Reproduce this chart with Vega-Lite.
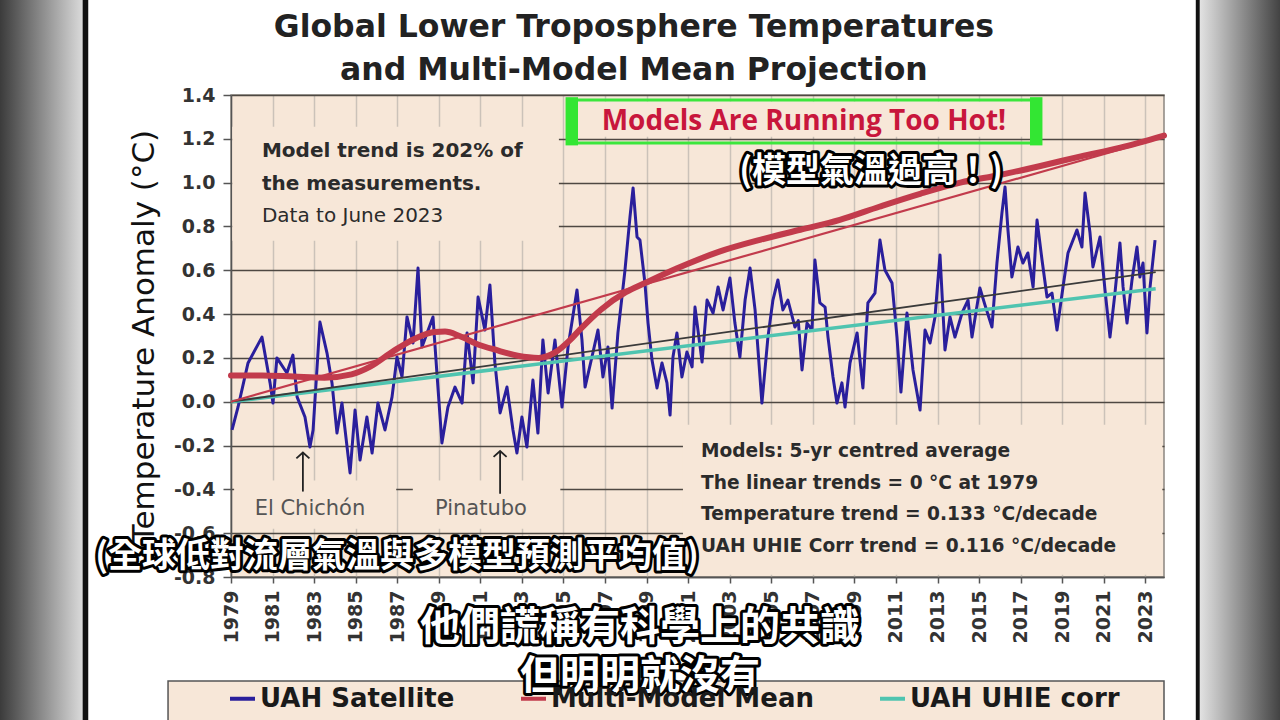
{
  "$schema": "https://vega.github.io/schema/vega-lite/v6.json",
  "width": 933,
  "height": 482,
  "autosize": {"type": "none"},
  "padding": {"left": 231, "top": 95, "right": 116, "bottom": 143},
  "background": "#ffffff",
  "config": {
    "view": {"fill": "#f7e7d8", "stroke": "#8c8680", "strokeWidth": 1.5},
    "axis": {"labelFont": "DejaVu Sans", "labelFontWeight": "bold", "labelColor": "#333333", "domainColor": "#555555", "tickColor": "#555555", "domainWidth": 1.5, "tickWidth": 1.5}
  },
  "datasets": {
    "uah": [
      {"t":1979.05,"v":-0.129},{"t":1979.34,"v":-0.024},{"t":1979.82,"v":0.177},{"t":1980.49,"v":0.295},{"t":1980.88,"v":0.086},{"t":1981.02,"v":-0.006},{"t":1981.21,"v":0.2},{"t":1981.69,"v":0.131},{"t":1981.98,"v":0.213},{"t":1982.18,"v":0.022},{"t":1982.56,"v":-0.07},{"t":1982.8,"v":-0.207},{"t":1982.95,"v":-0.129},{"t":1983.28,"v":0.364},{"t":1983.62,"v":0.222},{"t":1983.86,"v":0.086},{"t":1984.1,"v":-0.143},{"t":1984.34,"v":-0.006},{"t":1984.73,"v":-0.325},{"t":1984.97,"v":-0.038},{"t":1985.21,"v":-0.266},{"t":1985.54,"v":-0.07},{"t":1985.79,"v":-0.234},{"t":1986.07,"v":-0.006},{"t":1986.41,"v":-0.129},{"t":1986.75,"v":0.022},{"t":1986.99,"v":0.204},{"t":1987.23,"v":0.113},{"t":1987.47,"v":0.387},{"t":1987.76,"v":0.268},{"t":1988.0,"v":0.61},{"t":1988.19,"v":0.25},{"t":1988.72,"v":0.387},{"t":1988.91,"v":0.131},{"t":1989.15,"v":-0.188},{"t":1989.44,"v":-0.024},{"t":1989.78,"v":0.067},{"t":1990.12,"v":-0.006},{"t":1990.36,"v":0.314},{"t":1990.65,"v":0.086},{"t":1990.89,"v":0.478},{"t":1991.22,"v":0.327},{"t":1991.46,"v":0.533},{"t":1991.7,"v":0.177},{"t":1991.95,"v":-0.051},{"t":1992.28,"v":0.067},{"t":1992.57,"v":-0.129},{"t":1992.76,"v":-0.234},{"t":1993.0,"v":-0.07},{"t":1993.24,"v":-0.207},{"t":1993.53,"v":0.099},{"t":1993.77,"v":-0.143},{"t":1994.01,"v":0.282},{"t":1994.26,"v":0.04},{"t":1994.59,"v":0.282},{"t":1994.93,"v":-0.024},{"t":1995.22,"v":0.25},{"t":1995.65,"v":0.51},{"t":1995.89,"v":0.282},{"t":1996.04,"v":0.067},{"t":1996.37,"v":0.204},{"t":1996.66,"v":0.327},{"t":1996.9,"v":0.113},{"t":1997.14,"v":0.25},{"t":1997.34,"v":-0.029},{"t":1997.62,"v":0.314},{"t":1997.96,"v":0.601},{"t":1998.2,"v":0.843},{"t":1998.35,"v":0.976},{"t":1998.54,"v":0.752},{"t":1998.68,"v":0.738},{"t":1998.92,"v":0.542},{"t":1999.07,"v":0.359},{"t":1999.26,"v":0.191},{"t":1999.5,"v":0.063},{"t":1999.74,"v":0.177},{"t":1999.98,"v":0.086},{"t":2000.13,"v":-0.061},{"t":2000.27,"v":0.204},{"t":2000.46,"v":0.314},{"t":2000.7,"v":0.113},{"t":2000.94,"v":0.227},{"t":2001.19,"v":0.159},{"t":2001.33,"v":0.432},{"t":2001.67,"v":0.181},{"t":2001.91,"v":0.464},{"t":2002.2,"v":0.405},{"t":2002.44,"v":0.524},{"t":2002.68,"v":0.419},{"t":2003.01,"v":0.565},{"t":2003.25,"v":0.359},{"t":2003.49,"v":0.204},{"t":2003.74,"v":0.464},{"t":2003.98,"v":0.61},{"t":2004.22,"v":0.419},{"t":2004.55,"v":-0.006},{"t":2004.84,"v":0.295},{"t":2005.08,"v":0.464},{"t":2005.32,"v":0.556},{"t":2005.56,"v":0.419},{"t":2005.8,"v":0.464},{"t":2006.14,"v":0.341},{"t":2006.3,"v":0.37},{"t":2006.48,"v":0.145},{"t":2006.72,"v":0.359},{"t":2006.96,"v":0.327},{"t":2007.1,"v":0.647},{"t":2007.34,"v":0.451},{"t":2007.59,"v":0.432},{"t":2007.73,"v":0.295},{"t":2007.97,"v":0.113},{"t":2008.16,"v":-0.006},{"t":2008.4,"v":0.086},{"t":2008.55,"v":-0.024},{"t":2008.79,"v":0.177},{"t":2009.13,"v":0.314},{"t":2009.41,"v":0.063},{"t":2009.65,"v":0.451},{"t":2009.99,"v":0.496},{"t":2010.23,"v":0.738},{"t":2010.47,"v":0.601},{"t":2010.81,"v":0.542},{"t":2011.05,"v":0.295},{"t":2011.24,"v":0.044},{"t":2011.53,"v":0.405},{"t":2011.82,"v":0.145},{"t":2012.16,"v":-0.038},{"t":2012.4,"v":0.327},{"t":2012.64,"v":0.268},{"t":2012.88,"v":0.387},{"t":2013.12,"v":0.67},{"t":2013.36,"v":0.236},{"t":2013.6,"v":0.387},{"t":2013.84,"v":0.295},{"t":2014.18,"v":0.405},{"t":2014.47,"v":0.464},{"t":2014.66,"v":0.295},{"t":2015.04,"v":0.519},{"t":2015.29,"v":0.44},{"t":2015.62,"v":0.341},{"t":2015.86,"v":0.633},{"t":2016.1,"v":0.861},{"t":2016.25,"v":0.98},{"t":2016.39,"v":0.784},{"t":2016.58,"v":0.569},{"t":2016.87,"v":0.706},{"t":2017.11,"v":0.633},{"t":2017.35,"v":0.679},{"t":2017.6,"v":0.524},{"t":2017.79,"v":0.829},{"t":2018.03,"v":0.647},{"t":2018.27,"v":0.478},{"t":2018.51,"v":0.496},{"t":2018.75,"v":0.327},{"t":2019.04,"v":0.524},{"t":2019.28,"v":0.679},{"t":2019.71,"v":0.784},{"t":2019.95,"v":0.706},{"t":2020.1,"v":0.953},{"t":2020.34,"v":0.77},{"t":2020.48,"v":0.615},{"t":2020.82,"v":0.752},{"t":2021.06,"v":0.51},{"t":2021.3,"v":0.295},{"t":2021.54,"v":0.496},{"t":2021.78,"v":0.725},{"t":2021.93,"v":0.524},{"t":2022.12,"v":0.359},{"t":2022.36,"v":0.556},{"t":2022.6,"v":0.706},{"t":2022.74,"v":0.569},{"t":2022.89,"v":0.633},{"t":2023.08,"v":0.314},{"t":2023.23,"v":0.524},{"t":2023.47,"v":0.738}
    ],
    "model": [
      {"t":1979.0,"v":0.12},{"t":1980.5,"v":0.12},{"t":1982.0,"v":0.115},{"t":1983.5,"v":0.11},{"t":1984.8,"v":0.125},{"t":1985.7,"v":0.16},{"t":1986.8,"v":0.23},{"t":1987.9,"v":0.29},{"t":1988.8,"v":0.318},{"t":1989.3,"v":0.32},{"t":1990.0,"v":0.3},{"t":1990.8,"v":0.265},{"t":1991.8,"v":0.235},{"t":1992.8,"v":0.21},{"t":1993.8,"v":0.2},{"t":1994.6,"v":0.225},{"t":1995.3,"v":0.28},{"t":1995.8,"v":0.33},{"t":1996.8,"v":0.42},{"t":1998.0,"v":0.5},{"t":1999.0,"v":0.545},{"t":2000.5,"v":0.61},{"t":2002.5,"v":0.685},{"t":2004.5,"v":0.74},{"t":2006.4,"v":0.785},{"t":2008.3,"v":0.83},{"t":2010.2,"v":0.89},{"t":2012.2,"v":0.95},{"t":2014.1,"v":1.0},{"t":2016.0,"v":1.035},{"t":2017.9,"v":1.075},{"t":2019.9,"v":1.12},{"t":2021.8,"v":1.16},{"t":2023.9,"v":1.215}
    ],
    "uhie": [{"t":1979.0,"v":0.0},{"t":2023.5,"v":0.516}],
    "uahtrend": [{"t":1979.0,"v":0.0},{"t":2023.5,"v":0.592}],
    "modeltrend": [{"t":1979.0,"v":0.0},{"t":2023.9,"v":1.208}],
    "frameL": [{"t":1967.8,"t2":1971.86,"v":-1.47,"v2":1.85}],
    "frameR": [{"t":2025.62,"t2":2029.7,"v":-1.47,"v2":1.85}],
    "blackLines": [{"t":1971.86,"t2":1972.13,"v":-1.47,"v2":1.85},{"t":2025.43,"t2":2025.62,"v":-1.47,"v2":1.85}],
    "legendBox": [{"t":1975.97,"t2":2023.9,"v":-1.275,"v2":-1.47}],
    "covers": [
      {"t":1979.06,"t2":1994.78,"v":0.735,"v2":1.255},
      {"t":1979.15,"t2":1986.95,"v":-0.36,"v2":-0.58},
      {"t":1987.75,"t2":1994.85,"v":-0.36,"v2":-0.58},
      {"t":2000.75,"t2":2023.82,"v":-0.105,"v2":-0.79},
      {"t":1995.3,"t2":2017.85,"v":1.21,"v2":1.37}
    ],
    "hotBox": [{"t":1995.22,"t2":2017.93,"v":1.181,"v2":1.377}],
    "brackets": [{"t":1995.1,"t2":1995.7,"v":1.17,"v2":1.39},{"t":2017.45,"t2":2018.05,"v":1.17,"v2":1.39}],
    "titleLines": [
      {"t":1998.39,"v":1.6647,"label":"Global Lower Troposphere Temperatures"},
      {"t":1998.39,"v":1.4685,"label":"and Multi-Model Mean Projection"}
    ],
    "notesTop": [
      {"t":1980.49,"v":1.117,"label":"Model trend is 202% of"},
      {"t":1980.49,"v":0.966,"label":"the measurements."}
    ],
    "notesPlain": [{"t":1980.49,"v":0.82,"label":"Data to June 2023"}],
    "notesBottom": [
      {"t":2001.62,"v":-0.252,"label":"Models: 5-yr centred average"},
      {"t":2001.62,"v":-0.398,"label":"The linear trends = 0 °C at 1979"},
      {"t":2001.62,"v":-0.54,"label":"Temperature trend = 0.133 °C/decade"},
      {"t":2001.62,"v":-0.686,"label":"UAH UHIE Corr trend = 0.116 °C/decade"}
    ],
    "volcanoes": [{"t":1982.8,"v":-0.517,"label":"El Chichón"},{"t":1991.03,"v":-0.517,"label":"Pinatubo"}],
    "arrows": [{"t":1982.46,"v":-0.232,"v2":-0.41},{"t":1991.95,"v":-0.225,"v2":-0.42}],
    "hot": [{"t":2006.57,"v":1.24,"label":"Models Are Running Too Hot!"}],
    "subsSmall": [
      {"t":1986.99,"v":-0.709,"label":"(全球低對流層氣溫與多模型預測平均值)"},
      {"t":2009.8,"v":1.049,"label":"(模型氣溫過高！)"}
    ],
    "subsLarge": [
      {"t":1998.68,"v":-1.033,"label":"他們謊稱有科學上的共識"},
      {"t":1998.68,"v":-1.256,"label":"但明明就沒有"}
    ]
  },
  "encoding": {
    "x": {
      "field": "t", "type": "quantitative",
      "scale": {"domain": [1979, 2023.9], "nice": false, "zero": false},
      "axis": {
        "title": null,
        "values": [1979,1981,1983,1985,1987,1989,1991,1993,1995,1997,1999,2001,2003,2005,2007,2009,2011,2013,2015,2017,2019,2021,2023],
        "format": "d", "labelAngle": -90, "labelAlign": "right", "labelBaseline": "middle",
        "labelFontSize": 19, "labelPadding": 7, "tickSize": 6,
        "grid": true, "gridColor": "#cbc2b9", "gridWidth": 1.5,
        "labelFlush": false, "labelOverlap": false, "labelBound": false
      }
    },
    "y": {
      "field": "v", "type": "quantitative",
      "scale": {"domain": [-0.8, 1.4], "nice": false, "zero": false},
      "axis": {
        "title": "Temperature Anomaly (°C)",
        "values": [-0.8,-0.6,-0.4,-0.2,0,0.2,0.4,0.6,0.8,1.0,1.2,1.4],
        "labelExpr": "replace(format(datum.value, '.1f'), '\u2212', '-')",
        "labelFontSize": 19, "labelPadding": 8, "tickSize": 8,
        "grid": true, "gridColor": "#4e4842", "gridWidth": 1.4,
        "titleFont": "DejaVu Sans", "titleFontSize": 31, "titleFontWeight": "normal",
        "titleColor": "#111111", "titlePadding": 13,
        "labelFlush": false, "labelOverlap": false
      }
    }
  },
  "layer": [
    {
      "data": {"name": "frameL"},
      "mark": {"type": "rect", "fill": {"gradient": "linear", "x1": 0, "y1": 0, "x2": 1, "y2": 0, "stops": [{"offset": 0, "color": "#383838"}, {"offset": 1, "color": "#dadada"}]}},
      "encoding": {"x2": {"field": "t2"}, "y2": {"field": "v2"}}
    },
    {
      "data": {"name": "frameR"},
      "mark": {"type": "rect", "fill": {"gradient": "linear", "x1": 0, "y1": 0, "x2": 1, "y2": 0, "stops": [{"offset": 0, "color": "#e2e2e2"}, {"offset": 1, "color": "#3a3a3a"}]}},
      "encoding": {"x2": {"field": "t2"}, "y2": {"field": "v2"}}
    },
    {
      "data": {"name": "blackLines"},
      "mark": {"type": "rect", "fill": "#111111"},
      "encoding": {"x2": {"field": "t2"}, "y2": {"field": "v2"}}
    },
    {
      "data": {"name": "legendBox"},
      "mark": {"type": "rect", "fill": "#f7e7d8", "stroke": "#555555", "strokeWidth": 1.5},
      "encoding": {"x2": {"field": "t2"}, "y2": {"field": "v2"}}
    },
    {
      "data": {"name": "covers"},
      "mark": {"type": "rect", "fill": "#f7e7d8"},
      "encoding": {"x2": {"field": "t2"}, "y2": {"field": "v2"}}
    },
    {
      "data": {"name": "uah"},
      "mark": {"type": "line", "strokeWidth": 3, "strokeJoin": "round"},
      "encoding": {
        "color": {"datum": "UAH Satellite", "type": "nominal",
          "scale": {"domain": ["UAH Satellite", "Multi-Model Mean", "UAH UHIE corr"], "range": ["#2a1f9c", "#c23b4c", "#4fc4b0"]},
          "legend": {"orient": "none", "legendX": -3, "legendY": 589, "direction": "horizontal", "title": null, "symbolType": "stroke", "symbolSize": 625, "symbolStrokeWidth": 4, "labelFont": "DejaVu Sans", "labelFontSize": 26, "labelFontWeight": "bold", "labelColor": "#1a1a1a", "labelOffset": 3, "columnPadding": 58, "labelLimit": 400, "padding": 0}
        }
      }
    },
    {
      "data": {"name": "uhie"},
      "mark": {"type": "line", "strokeWidth": 3.5},
      "encoding": {"color": {"datum": "UAH UHIE corr", "type": "nominal"}}
    },
    {
      "data": {"name": "uahtrend"},
      "mark": {"type": "line", "strokeWidth": 1.8, "color": "#3a3a3a"},
      "encoding": {}
    },
    {
      "data": {"name": "modeltrend"},
      "mark": {"type": "line", "strokeWidth": 2.2, "color": "#c23b4c"},
      "encoding": {}
    },
    {
      "data": {"name": "model"},
      "mark": {"type": "line", "strokeWidth": 6, "interpolate": "monotone", "strokeCap": "round"},
      "encoding": {"color": {"datum": "Multi-Model Mean", "type": "nominal"}}
    },
    {
      "data": {"name": "hotBox"},
      "mark": {"type": "rect", "fill": null, "fillOpacity": 0, "stroke": "#3ce63c", "strokeWidth": 3},
      "encoding": {"x2": {"field": "t2"}, "y2": {"field": "v2"}}
    },
    {
      "data": {"name": "brackets"},
      "mark": {"type": "rect", "fill": "#33e633"},
      "encoding": {"x2": {"field": "t2"}, "y2": {"field": "v2"}}
    },
    {
      "data": {"name": "titleLines"},
      "mark": {"type": "text", "font": "DejaVu Sans", "fontSize": 31.5, "fontWeight": "bold", "fill": "#222222", "align": "center", "baseline": "alphabetic"},
      "encoding": {"text": {"field": "label"}}
    },
    {
      "data": {"name": "notesTop"},
      "mark": {"type": "text", "font": "DejaVu Sans", "fontSize": 20, "fontWeight": "bold", "fill": "#2b2b2b", "align": "left", "baseline": "alphabetic"},
      "encoding": {"text": {"field": "label"}}
    },
    {
      "data": {"name": "notesPlain"},
      "mark": {"type": "text", "font": "DejaVu Sans", "fontSize": 20, "fill": "#2b2b2b", "align": "left", "baseline": "alphabetic"},
      "encoding": {"text": {"field": "label"}}
    },
    {
      "data": {"name": "notesBottom"},
      "mark": {"type": "text", "font": "DejaVu Sans", "fontSize": 18.6, "fontWeight": "bold", "fill": "#2b2b2b", "align": "left", "baseline": "alphabetic"},
      "encoding": {"text": {"field": "label"}}
    },
    {
      "data": {"name": "volcanoes"},
      "mark": {"type": "text", "font": "DejaVu Sans", "fontSize": 21, "fill": "#555555", "align": "center", "baseline": "alphabetic"},
      "encoding": {"text": {"field": "label"}}
    },
    {
      "data": {"name": "hot"},
      "mark": {"type": "text", "font": "Open Sans", "fontSize": 28, "fontWeight": "bold", "fill": "#c8163c", "align": "center", "baseline": "alphabetic"},
      "encoding": {"text": {"field": "label"}}
    },
    {
      "data": {"name": "arrows"},
      "mark": {"type": "rule", "color": "#222222", "strokeWidth": 1.8},
      "encoding": {"y2": {"field": "v2"}}
    },
    {
      "data": {"name": "arrows"},
      "mark": {"type": "point", "shape": "M-1,0.9L0,0L1,0.9", "filled": false, "size": 170, "stroke": "#222222", "strokeWidth": 1.8, "opacity": 1},
      "encoding": {}
    },
    {
      "data": {"name": "subsSmall"},
      "mark": {"type": "text", "font": "Noto Sans CJK TC", "fontSize": 34, "fontWeight": "bold", "fill": "#000000", "stroke": "#000000", "strokeWidth": 6, "strokeJoin": "round", "align": "center", "baseline": "middle"},
      "encoding": {"text": {"field": "label"}}
    },
    {
      "data": {"name": "subsSmall"},
      "mark": {"type": "text", "font": "Noto Sans CJK TC", "fontSize": 34, "fontWeight": "bold", "fill": "#ffffff", "align": "center", "baseline": "middle"},
      "encoding": {"text": {"field": "label"}}
    },
    {
      "data": {"name": "subsLarge"},
      "mark": {"type": "text", "font": "Noto Sans CJK TC", "fontSize": 40, "fontWeight": "bold", "fill": "#000000", "stroke": "#000000", "strokeWidth": 6, "strokeJoin": "round", "align": "center", "baseline": "middle"},
      "encoding": {"text": {"field": "label"}}
    },
    {
      "data": {"name": "subsLarge"},
      "mark": {"type": "text", "font": "Noto Sans CJK TC", "fontSize": 40, "fontWeight": "bold", "fill": "#ffffff", "align": "center", "baseline": "middle"},
      "encoding": {"text": {"field": "label"}}
    }
  ]
}
